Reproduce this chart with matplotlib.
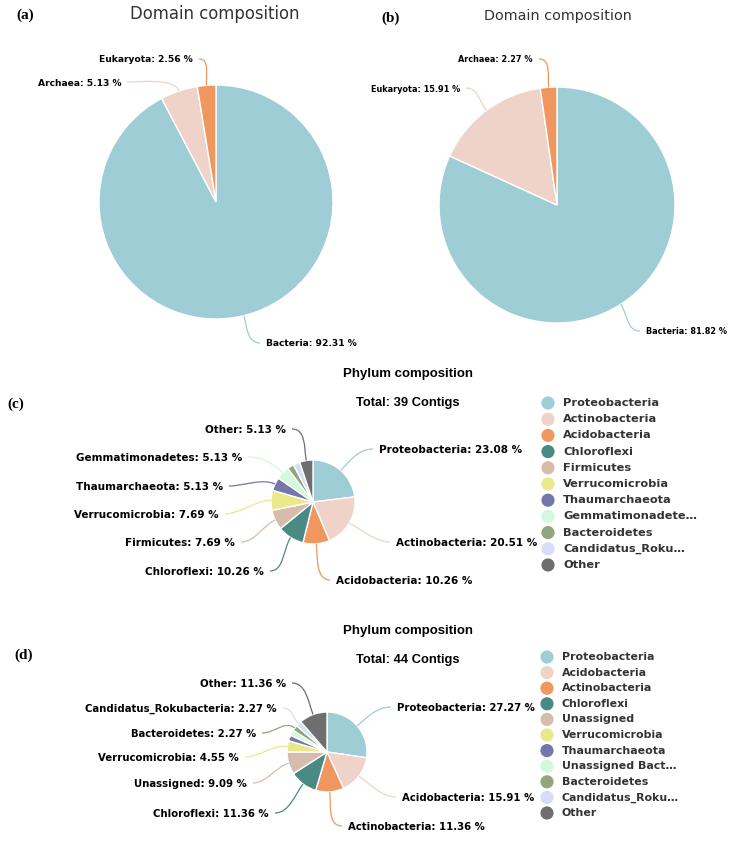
import numpy as np
import matplotlib
matplotlib.use("Agg")
import matplotlib.pyplot as plt
from matplotlib.path import Path
from matplotlib.patches import PathPatch

# ---- data (percent of contigs)
domain_a_names = ["Bacteria", "Archaea", "Eukaryota"]
domain_a_values = [92.31, 5.13, 2.56]
domain_b_names = ["Bacteria", "Eukaryota", "Archaea"]
domain_b_values = [81.82, 15.91, 2.27]

phylum_c_names = ["Proteobacteria", "Actinobacteria", "Acidobacteria", "Chloroflexi",
                  "Firmicutes", "Verrucomicrobia", "Thaumarchaeota", "Gemmatimonadetes",
                  "Bacteroidetes", "Candidatus_Rokubacteria", "Other"]
phylum_c_values = [23.08, 20.51, 10.26, 10.26, 7.69, 7.69, 5.13, 5.13, 2.56, 2.56, 5.13]
phylum_c_legend = ["Proteobacteria", "Actinobacteria", "Acidobacteria", "Chloroflexi",
                   "Firmicutes", "Verrucomicrobia", "Thaumarchaeota", "Gemmatimonadete\u2026",
                   "Bacteroidetes", "Candidatus_Roku\u2026", "Other"]
phylum_c_total = 39

phylum_d_names = ["Proteobacteria", "Acidobacteria", "Actinobacteria", "Chloroflexi",
                  "Unassigned", "Verrucomicrobia", "Thaumarchaeota", "Unassigned Bacteria",
                  "Bacteroidetes", "Candidatus_Rokubacteria", "Other"]
phylum_d_values = [27.27, 15.91, 11.36, 11.36, 9.09, 4.55, 2.27, 2.27, 2.27, 2.27, 11.36]
phylum_d_legend = ["Proteobacteria", "Acidobacteria", "Actinobacteria", "Chloroflexi",
                   "Unassigned", "Verrucomicrobia", "Thaumarchaeota", "Unassigned Bact\u2026",
                   "Bacteroidetes", "Candidatus_Roku\u2026", "Other"]
phylum_d_total = 44

palette = ["#9ecdd6", "#f0d3c8", "#f0975f", "#4a8a85", "#d5bcad", "#ebe88c",
           "#7478a8", "#d3f8dd", "#8fa67e", "#d7ddf8", "#6e6e6e"]

# ---- layout (pixels, y measured from top)
W, H = 732, 842

# label anchor (x, y, ha) per slice, None = no label
labels_a = [(266, 344, "left"), (121, 83, "right"), (193, 60, "right")]
labels_b = [(646, 332, "left"), (460, 89, "right"), (533, 60, "right")]
labels_c = [(379, 450, "left"), (396, 543, "left"), (336, 581, "left"),
            (264, 572, "right"), (235, 543, "right"), (219, 515, "right"),
            (223, 487, "right"), (242, 458, "right"), None, None, (286, 430, "right")]
labels_d = [(397, 708, "left"), (402, 798, "left"), (348, 827, "left"),
            (269, 814, "right"), (247, 784, "right"), (239, 758, "right"),
            None, None, (256, 734, "right"), (277, 709, "right"), (286, 684, "right")]


def Y(y):
    return H - y


def connector(ax, cx, cy, r, ang, end, ha, color):
    a = np.deg2rad(ang)
    ux, uy = np.cos(a), np.sin(a)
    p0 = np.array([cx + r * ux, Y(cy) + r * uy])
    ex = end[0] - 6 if ha == "left" else end[0] + 6
    p3 = np.array([ex, Y(end[1]) + 1])
    k = min(14, 0.4 * np.hypot(*(p3 - p0)))
    side = -1 if ha == "left" else 1
    p1 = p0 + k * np.array([ux, uy])
    p2 = p3 + np.array([side * k, 0])
    path = Path([p0, p1, p2, p3], [Path.MOVETO, Path.CURVE4, Path.CURVE4, Path.CURVE4])
    ax.add_patch(PathPatch(path, facecolor="none", edgecolor=color, lw=0.9))


def draw_pie(ax, values, names, cx, cy, r, labels, fs):
    wedges, _ = ax.pie(values, colors=palette[:len(values)], startangle=90,
                       counterclock=False, center=(cx, Y(cy)), radius=r,
                       wedgeprops=dict(edgecolor="white", linewidth=1.0))
    for w, name, val, lab in zip(wedges, names, values, labels):
        if lab is None:
            continue
        x, y, ha = lab
        mid = (w.theta1 + w.theta2) / 2
        connector(ax, cx, cy, r, mid, (x, y), ha, w.get_facecolor())
        ax.text(x, Y(y), f"{name}: {val:.2f} %", ha=ha, va="center",
                fontsize=fs, fontweight="bold", color="black")


def draw_legend(ax, names, x, y0, dy, fs):
    for i, name in enumerate(names):
        y = y0 + i * dy
        ax.scatter([x], [Y(y)], s=90, color=palette[i], edgecolors="none", zorder=3)
        ax.text(x + 15, Y(y), name, ha="left", va="center", fontsize=fs,
                fontweight="bold", color="#333333")


fig = plt.figure(figsize=(W / 100, H / 100), dpi=100)
ax = fig.add_axes([0, 0, 1, 1])

draw_pie(ax, domain_a_values, domain_a_names, 216, 202, 117, labels_a, 6.6)
draw_pie(ax, domain_b_values, domain_b_names, 557, 205, 118, labels_b, 5.9)
draw_pie(ax, phylum_c_values, phylum_c_names, 313, 502, 42, labels_c, 7.5)
draw_pie(ax, phylum_d_values, phylum_d_names, 327, 752, 40, labels_d, 7.3)

draw_legend(ax, phylum_c_legend, 548, 403, 16.2, 8.2)
draw_legend(ax, phylum_d_legend, 547, 657, 15.6, 7.9)

# titles
ax.text(215, Y(14), "Domain composition", ha="center", va="center",
        fontsize=11.9, color="#333333")
ax.text(558, Y(16), "Domain composition", ha="center", va="center",
        fontsize=10.4, color="#333333")
for ty, total in [(374, phylum_c_total), (631, phylum_d_total)]:
    ax.text(408, Y(ty), "Phylum composition", ha="center", va="center",
            fontsize=9.5, fontweight="bold", family="Liberation Sans", color="black")
    ax.text(408, Y(ty + 29), f"Total: {total} Contigs", ha="center", va="center",
            fontsize=9.3, fontweight="bold", family="Liberation Sans", color="black")

# panel letters
for px, py, letter in [(16, 15, "(a)"), (381, 18, "(b)"), (7, 404, "(c)"), (14, 655, "(d)")]:
    ax.text(px, Y(py), letter, ha="left", va="center", fontsize=11,
            fontweight="bold", family="Liberation Serif", color="black")

ax.set_xlim(0, W)
ax.set_ylim(0, H)
ax.set_aspect("auto")
ax.axis("off")
fig.savefig("out.png", dpi=100)
